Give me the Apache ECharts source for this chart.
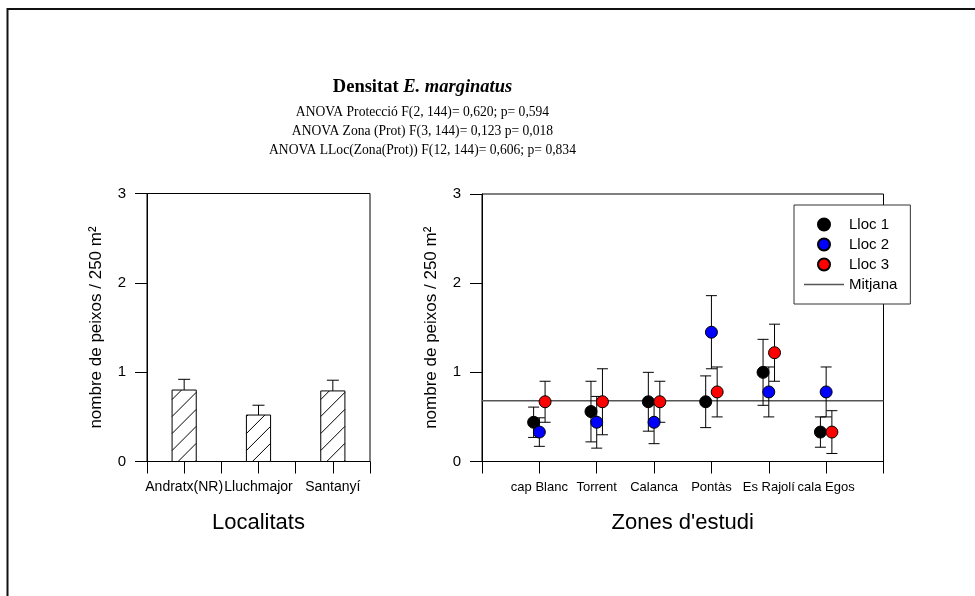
<!DOCTYPE html>
<html>
<head>
<meta charset="utf-8">
<script src="https://cdn.jsdelivr.net/npm/echarts@6/dist/echarts.min.js"></script>
<style>
  html, body { margin: 0; padding: 0; background: #fff; }
  #chart { width: 975px; height: 596px; }
</style>
</head>
<body>
<div id="chart"></div>
<script>
// ---- Densitat per localitat (mitjana + error) ----
const localitats = ['Andratx(NR)', 'Lluchmajor', 'Santanyí'];
const densitatLocalitat = [0.80, 0.52, 0.79];
const errorLocalitat = [0.12, 0.11, 0.12];

// ---- Densitat per zona d'estudi i lloc (mitjana ± error) ----
const zones = ['cap Blanc', 'Torrent', 'Calanca', 'Pontàs', 'Es Rajolí', 'cala Egos'];
const lloc1 = [0.44, 0.56, 0.67, 0.67, 1.00, 0.33];
const lloc1Err = [0.17, 0.34, 0.33, 0.29, 0.37, 0.17];
const lloc2 = [0.33, 0.44, 0.44, 1.45, 0.78, 0.78];
const lloc2Err = [0.16, 0.29, 0.24, 0.41, 0.28, 0.28];
const lloc3 = [0.67, 0.67, 0.67, 0.78, 1.22, 0.33];
const lloc3Err = [0.23, 0.37, 0.23, 0.28, 0.32, 0.24];
const mitjana = 0.68;

const yTicks = [0, 1, 2, 3];
const titol = 'Densitat';
const especie = 'E. marginatus';
const anova = [
  'ANOVA Protecció F(2, 144)= 0,620; p= 0,594',
  'ANOVA Zona (Prot) F(3, 144)= 0,123 p= 0,018',
  'ANOVA LLoc(Zona(Prot)) F(12, 144)= 0,606; p= 0,834'
];

const SANS = '"Liberation Sans", Arial, sans-serif';
const SERIF = '"Liberation Serif", "Times New Roman", serif';

// category positions on the numeric x axes
const posLocalitat = localitats.map((_, i) => 2 * i + 1);
const posZona = zones.map((_, i) => i + 1);
const llocs = [
  { name: 'Lloc 1', vals: lloc1, err: lloc1Err, color: '#000000', shift: -0.1 },
  { name: 'Lloc 2', vals: lloc2, err: lloc2Err, color: '#0000ff', shift: 0 },
  { name: 'Lloc 3', vals: lloc3, err: lloc3Err, color: '#ff0000', shift: 0.1 }
];

// hatched bar: white rectangle with "/" diagonal lines clipped to it
function renderHatchBar(params, api) {
  const x = api.value(0), v = api.value(1);
  const base = api.coord([x, 0]);
  const top = api.coord([x, v]);
  const w = api.size([0.65, 0])[0];
  const x1 = base[0] - w / 2, x2 = base[0] + w / 2;
  const y1 = top[1], y2 = base[1];
  const children = [];
  const step = 17;
  const c0 = x1 + y2 + 6;
  const kMin = Math.ceil((x1 + y1 - c0) / step);
  const kMax = Math.floor((x2 + y2 - c0) / step);
  for (let k = kMin; k <= kMax; k++) {
    const c = c0 + k * step;
    const xa = Math.max(x1, c - y2);
    const xb = Math.min(x2, c - y1);
    if (xb - xa > 0.5) {
      children.push({
        type: 'line',
        shape: { x1: xa, y1: c - xa, x2: xb, y2: c - xb },
        style: { stroke: '#000', lineWidth: 1 }
      });
    }
  }
  children.push({
    type: 'rect',
    shape: { x: x1, y: y1, width: w, height: y2 - y1 },
    style: { fill: null, stroke: '#000', lineWidth: 1 }
  });
  children.unshift({
    type: 'rect',
    shape: { x: x1, y: y1, width: w, height: y2 - y1 },
    style: { fill: '#fff', stroke: null }
  });
  return { type: 'group', children };
}

// upward error bar with cap (bar chart)
function renderUpError(params, api) {
  const x = api.value(0), v = api.value(1), e = api.value(2);
  const p0 = api.coord([x, v]);
  const p1 = api.coord([x, v + e]);
  const hw = 6;
  return {
    type: 'group',
    children: [
      { type: 'line', shape: { x1: p0[0], y1: p0[1], x2: p1[0], y2: p1[1] }, style: { stroke: '#000', lineWidth: 1 } },
      { type: 'line', shape: { x1: p1[0] - hw, y1: p1[1], x2: p1[0] + hw, y2: p1[1] }, style: { stroke: '#000', lineWidth: 1 } }
    ]
  };
}

// symmetric error bar with caps (point chart)
function renderError(params, api) {
  const x = api.value(0), v = api.value(1), e = api.value(2);
  const lo = api.coord([x, v - e]);
  const hi = api.coord([x, v + e]);
  const hw = 5.5;
  const st = { stroke: '#000', lineWidth: 1 };
  return {
    type: 'group',
    children: [
      { type: 'line', shape: { x1: lo[0], y1: lo[1], x2: hi[0], y2: hi[1] }, style: st },
      { type: 'line', shape: { x1: lo[0] - hw, y1: lo[1], x2: lo[0] + hw, y2: lo[1] }, style: st },
      { type: 'line', shape: { x1: hi[0] - hw, y1: hi[1], x2: hi[0] + hw, y2: hi[1] }, style: st }
    ]
  };
}

function yAxisCfg(gridIndex) {
  return {
    type: 'value', gridIndex, min: 0, max: 3, interval: 1,
    name: 'nombre de peixos / 250 m²',
    nameLocation: 'middle', nameRotate: 90, nameGap: 42, nameMoveOverlap: false,
    nameTextStyle: { fontFamily: SANS, fontSize: 17, color: '#000' },
    axisLine: { show: true, lineStyle: { color: '#000', width: 1 } },
    axisTick: { show: true, inside: false, length: 12, lineStyle: { color: '#000', width: 1 } },
    axisLabel: {
      margin: 21, fontFamily: SANS, fontSize: 15, color: '#000',
      formatter: v => (yTicks.indexOf(v) >= 0 ? String(v) : '')
    },
    splitLine: { show: false }
  };
}

function xAxisCfg(gridIndex, max, positions, names, fontSize, axisName) {
  return {
    type: 'value', gridIndex, min: 0, max, interval: 1,
    name: axisName, nameLocation: 'middle', nameGap: 50, nameMoveOverlap: false,
    nameTextStyle: { fontFamily: SANS, fontSize: 22, color: '#000' },
    axisLine: { show: true, onZero: false, lineStyle: { color: '#000', width: 1 } },
    axisTick: { show: true, inside: false, length: 12, lineStyle: { color: '#000', width: 1 } },
    axisLabel: {
      margin: 19, fontFamily: SANS, fontSize, color: '#000',
      showMinLabel: true, showMaxLabel: true,
      formatter: v => {
        const i = positions.indexOf(v);
        return i >= 0 ? names[i] : '';
      }
    },
    splitLine: { show: false }
  };
}

const series = [
  {
    name: 'Densitat localitat', type: 'custom', xAxisIndex: 0, yAxisIndex: 0,
    renderItem: renderHatchBar, z: 2,
    data: posLocalitat.map((x, i) => [x, densitatLocalitat[i]])
  },
  {
    name: 'Error localitat', type: 'custom', xAxisIndex: 0, yAxisIndex: 0,
    renderItem: renderUpError, z: 3,
    data: posLocalitat.map((x, i) => [x, densitatLocalitat[i], errorLocalitat[i]])
  },
  {
    name: 'Mitjana', type: 'line', xAxisIndex: 1, yAxisIndex: 1,
    symbol: 'none', silent: true, z: 1,
    lineStyle: { color: '#555', width: 1.5 }, itemStyle: { color: '#555' },
    data: [[0, mitjana], [zones.length + 1, mitjana]]
  }
];
llocs.forEach(l => {
  series.push({
    name: l.name + ' error', type: 'custom', xAxisIndex: 1, yAxisIndex: 1,
    renderItem: renderError, z: 3,
    data: posZona.map((x, i) => [x + l.shift, l.vals[i], l.err[i]])
  });
});
llocs.forEach(l => {
  series.push({
    name: l.name, type: 'scatter', xAxisIndex: 1, yAxisIndex: 1,
    symbol: 'circle', symbolSize: 12, z: 4,
    itemStyle: { color: l.color, borderColor: '#000', borderWidth: 1, opacity: 1 },
    data: posZona.map((x, i) => [x + l.shift, l.vals[i]])
  });
});

const chart = echarts.init(document.getElementById('chart'), null, { renderer: 'canvas' });
chart.setOption({
  backgroundColor: '#fff',
  animation: false,
  textStyle: { fontFamily: SANS },
  grid: [
    { left: 147, top: 193.5, width: 223, height: 268, show: true, borderColor: '#000', borderWidth: 1, backgroundColor: 'transparent', containLabel: false, outerBoundsMode: 'none' },
    { left: 482, top: 194, width: 401.5, height: 267.5, show: true, borderColor: '#000', borderWidth: 1, backgroundColor: 'transparent', containLabel: false, outerBoundsMode: 'none' }
  ],
  xAxis: [
    xAxisCfg(0, 6, posLocalitat, localitats, 14, 'Localitats'),
    xAxisCfg(1, zones.length + 1, posZona, zones, 13, "Zones d'estudi")
  ],
  yAxis: [yAxisCfg(0), yAxisCfg(1)],
  legend: {
    data: [
      { name: 'Lloc 1', icon: 'circle' },
      { name: 'Lloc 2', icon: 'circle' },
      { name: 'Lloc 3', icon: 'circle' },
      { name: 'Mitjana', icon: 'path://M0,0 H36 V1.5 H0 Z', itemStyle: { color: '#555', borderWidth: 0 } }
    ],
    orient: 'vertical', left: 794, top: 205,
    padding: [12, 13, 12, 10], itemGap: 5, itemWidth: 40, itemHeight: 12,
    backgroundColor: '#fff', borderColor: '#333', borderWidth: 1, borderRadius: 0,
    selectedMode: false, z: 10,
    textStyle: { fontFamily: SANS, fontSize: 15, color: '#000' }
  },
  graphic: [
    {
      type: 'rect', silent: true, z: 100,
      shape: { x: 7.5, y: 9, width: 1000, height: 700 },
      style: { fill: null, stroke: '#111', lineWidth: 2 }
    },
    {
      type: 'text', x: 422.5, y: 87, silent: true,
      style: {
        text: '{b|' + titol + ' }{bi|' + especie + '}',
        align: 'center', verticalAlign: 'middle',
        rich: {
          b: { fontFamily: SERIF, fontSize: 18.5, fontWeight: 'bold', fill: '#000' },
          bi: { fontFamily: SERIF, fontSize: 18.5, fontWeight: 'bold', fontStyle: 'italic', fill: '#000' }
        }
      }
    },
    ...anova.map((t, i) => ({
      type: 'text', x: 422.5, y: 112 + i * 19.2, silent: true,
      style: {
        text: t, align: 'center', verticalAlign: 'middle',
        fontFamily: SERIF, fontSize: 13.6, fill: '#000'
      }
    }))
  ],
  series
});
</script>
</body>
</html>
